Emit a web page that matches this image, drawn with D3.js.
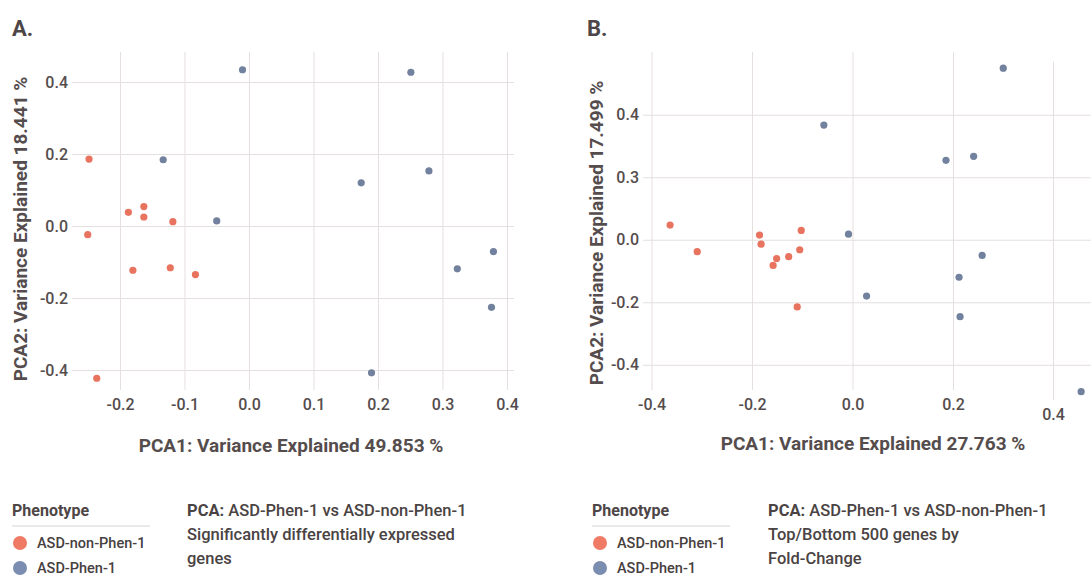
<!DOCTYPE html>
<html>
<head>
<meta charset="utf-8">
<script src="https://cdn.jsdelivr.net/npm/d3@7"></script>
<style>
  body { margin: 0; background: #fff; }
  svg { display: block; font-family: Roboto, "Noto Sans", sans-serif; }
</style>
</head>
<body>
<svg></svg>
<script>
const width = 1091;
const height = 577;

// groups
const phenotypes = ["ASD-non-Phen-1", "ASD-Phen-1"];
const colors = ["#e8735f", "#71819e"];
const legendColors = ["#ef7b66", "#7b8db0"];

// panel A - significantly DE genes
const aNonPhenPC1 = [-0.248, -0.250, -0.187, -0.163, -0.163, -0.118, -0.180, -0.122, -0.083, -0.236];
const aNonPhenPC2 = [0.186, -0.024, 0.038, 0.054, 0.025, 0.012, -0.123, -0.116, -0.135, -0.423];
const aPhenPC1 = [-0.010, -0.133, -0.050, 0.251, 0.174, 0.279, 0.323, 0.379, 0.376, 0.190];
const aPhenPC2 = [0.434, 0.184, 0.014, 0.427, 0.120, 0.153, -0.119, -0.071, -0.226, -0.408];
const aXTicks = [-0.2, -0.1, 0, 0.1, 0.2, 0.3, 0.4];
const aXTickLabels = ["-0.2", "-0.1", "0.0", "0.1", "0.2", "0.3", "0.4"];
const aYTicks = [-0.4, -0.2, 0, 0.2, 0.4];
const aYTickLabels = ["-0.4", "-0.2", "0.0", "0.2", "0.4"];

// panel B - top/bottom 500 genes
const bNonPhenPC1 = [-0.363, -0.309, -0.185, -0.182, -0.102, -0.105, -0.127, -0.151, -0.158, -0.110];
const bNonPhenPC2 = [0.047, -0.038, 0.015, -0.014, 0.030, -0.032, -0.054, -0.060, -0.082, -0.215];
const bPhenPC1 = [-0.057, -0.008, 0.028, 0.186, 0.241, 0.300, 0.258, 0.212, 0.214, 0.455];
const bPhenPC2 = [0.367, 0.018, -0.180, 0.254, 0.267, 0.549, -0.050, -0.120, -0.246, -0.486];
const bXTicks = [-0.4, -0.2, 0, 0.2, 0.4];
const bXTickLabels = ["-0.4", "-0.2", "0.0", "0.2", "0.4"];
const bYTicks = [-0.4, -0.2, 0, 0.2, 0.4];
const bYTickLabels = ["-0.4", "-0.2", "0.0", "0.3", "0.4"];

const svg = d3.select("svg")
  .attr("width", width)
  .attr("height", height);

svg.append("rect").attr("width", width).attr("height", height).attr("fill", "#fff");

const gridColor = "#e6dfdf";
const textColor = "#554d4d";

function toPoints(pc1, pc2, group) {
  return pc1.map((x, i) => ({x: x, y: pc2[i], group: group}));
}

function drawPanel(p) {
  const g = svg.append("g");

  const x = d3.scaleLinear().domain(p.xDomain).range([p.left, p.right]);
  const y = d3.scaleLinear().domain(p.yDomain).range([p.bottom, p.top]);

  // vertical grid + x labels
  const xAxis = g.append("g")
    .attr("transform", `translate(0,${p.bottom})`)
    .call(d3.axisBottom(x)
      .tickValues(p.xTicks)
      .tickFormat((d, i) => p.xTickLabels[i])
      .tickSizeInner(-(p.bottom - p.top))
      .tickSizeOuter(0)
      .tickPadding(9));

  // horizontal grid + y labels
  const yAxis = g.append("g")
    .attr("transform", `translate(${p.left},0)`)
    .call(d3.axisLeft(y)
      .tickValues(p.yTicks)
      .tickFormat((d, i) => p.yTickLabels[i])
      .tickSizeInner(-(p.gridRight - p.left))
      .tickSizeOuter(0)
      .tickPadding(4));

  [xAxis, yAxis].forEach(a => {
    a.select(".domain").remove();
    a.selectAll(".tick line").attr("stroke", gridColor).attr("stroke-width", 1);
    a.selectAll(".tick text")
      .attr("fill", textColor)
      .style("font-size", "16px")
      .style("font-weight", 500)
      .style("font-family", "Roboto, sans-serif");
  });

  if (p.shiftLastX) {
    xAxis.selectAll(".tick").filter((d, i) => i === p.xTicks.length - 1)
      .attr("transform", d => `translate(${x(d)},${p.shiftLastX})`);
  }

  const pts = toPoints(p.nonPhenPC1, p.nonPhenPC2, 0)
    .concat(toPoints(p.phenPC1, p.phenPC2, 1));

  g.selectAll("circle.pt")
    .data(pts).enter().append("circle")
    .attr("class", "pt")
    .attr("cx", d => x(d.x))
    .attr("cy", d => y(d.y))
    .attr("r", 3.6)
    .attr("fill", d => colors[d.group]);

  // axis titles
  g.append("text")
    .attr("x", p.xTitleX)
    .attr("y", p.xTitleY)
    .attr("text-anchor", "middle")
    .attr("fill", textColor)
    .style("font-size", "19px")
    .style("font-weight", 700)
    .text(p.xTitle);

  g.append("text")
    .attr("transform", `translate(${p.yTitleX},${p.yTitleY}) rotate(-90)`)
    .attr("text-anchor", "middle")
    .attr("fill", textColor)
    .style("font-size", "19px")
    .style("font-weight", 700)
    .text(p.yTitle);

  // panel letter
  g.append("text")
    .attr("x", p.letterX)
    .attr("y", 36)
    .attr("fill", "#4e4646")
    .style("font-size", "22px")
    .style("font-weight", 700)
    .text(p.letter);

  // legend
  const lg = g.append("g").attr("transform", `translate(${p.legendX},0)`);
  lg.append("text")
    .attr("x", 0).attr("y", 516)
    .attr("fill", "#4e4646")
    .style("font-size", "16px")
    .style("font-weight", 700)
    .text("Phenotype");
  lg.append("line")
    .attr("x1", 0).attr("x2", 138)
    .attr("y1", 526).attr("y2", 526)
    .attr("stroke", "#e3e3e6").attr("stroke-width", 1.5);
  lg.selectAll("circle")
    .data(phenotypes).enter().append("circle")
    .attr("cx", 8)
    .attr("cy", (d, i) => 543 + i * 25)
    .attr("r", 7)
    .attr("fill", (d, i) => legendColors[i]);
  lg.selectAll("text.lab")
    .data(phenotypes).enter().append("text")
    .attr("class", "lab")
    .attr("x", 25)
    .attr("y", (d, i) => 548 + i * 25)
    .attr("fill", "#474040")
    .style("font-size", "14.5px")
    .style("font-weight", 500)
    .text(d => d);

  // description
  const desc = g.append("text")
    .attr("fill", "#4a4343")
    .style("font-size", "16.5px")
    .style("font-weight", 500);
  p.descLines.forEach((line, i) => {
    const t = desc.append("tspan")
      .attr("x", p.descX)
      .attr("y", 516 + i * 24);
    if (i === 0) {
      t.append("tspan").style("font-weight", 700).text("PCA:");
      t.append("tspan").text(" " + line);
    } else {
      t.text(line);
    }
  });
}

drawPanel({
  letter: "A.", letterX: 12,
  nonPhenPC1: aNonPhenPC1, nonPhenPC2: aNonPhenPC2,
  phenPC1: aPhenPC1, phenPC2: aPhenPC2,
  xTicks: aXTicks, xTickLabels: aXTickLabels,
  yTicks: aYTicks, yTickLabels: aYTickLabels,
  xDomain: [-0.2744, 0.4109], yDomain: [-0.4556, 0.4833],
  left: 72, right: 514, gridRight: 514, top: 52, bottom: 390,
  xTitle: "PCA1: Variance Explained 49.853 %", xTitleX: 291, xTitleY: 452,
  yTitle: "PCA2: Variance Explained 18.441 %", yTitleX: 27, yTitleY: 229,
  legendX: 12,
  descX: 187,
  descLines: ["ASD-Phen-1 vs ASD-non-Phen-1", "Significantly differentially expressed", "genes"]
});

drawPanel({
  letter: "B.", letterX: 587,
  nonPhenPC1: bNonPhenPC1, nonPhenPC2: bNonPhenPC2,
  phenPC1: bPhenPC1, phenPC2: bPhenPC2,
  xTicks: bXTicks, xTickLabels: bXTickLabels,
  yTicks: bYTicks, yTickLabels: bYTickLabels,
  xDomain: [-0.4169, 0.4925], yDomain: [-0.4806, 0.6006],
  left: 643, right: 1100, gridRight: 1100, top: 52, bottom: 390,
  shiftLastX: 10,
  xTitle: "PCA1: Variance Explained 27.763 %", xTitleX: 873, xTitleY: 450,
  yTitle: "PCA2: Variance Explained 17.499 %", yTitleX: 603, yTitleY: 233,
  legendX: 592,
  descX: 768,
  descLines: ["ASD-Phen-1 vs ASD-non-Phen-1", "Top/Bottom 500 genes by", "Fold-Change"]
});
</script>
</body>
</html>
